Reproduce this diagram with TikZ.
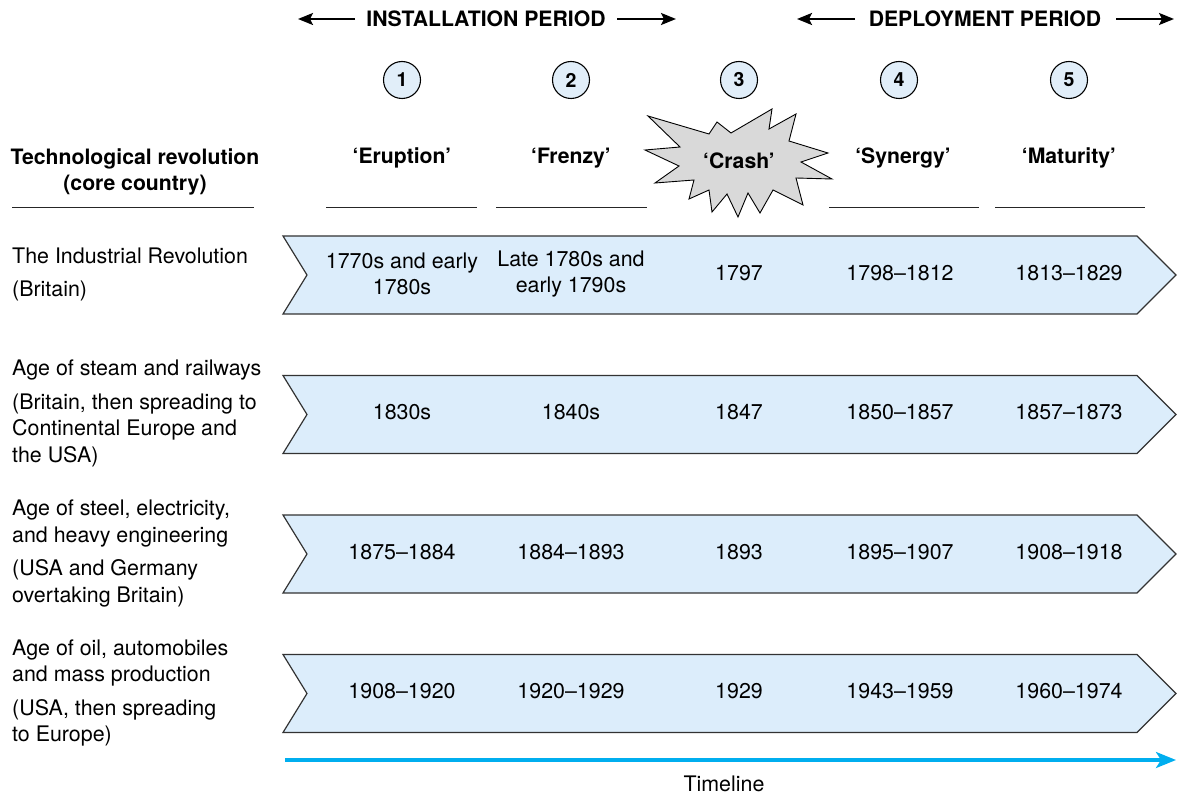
\documentclass[tikz,border=0pt]{standalone}
\usepackage{fontspec}
\setmainfont{TeX Gyre Heros}
\usetikzlibrary{arrows.meta}

\definecolor{chevfill}{HTML}{DCEDFB}
\definecolor{chevline}{HTML}{333333}
\definecolor{badgefill}{HTML}{E1EEF9}
\definecolor{crashfill}{HTML}{D9D9D9}
\definecolor{timecyan}{HTML}{00AEEF}

% one chevron band; #1 = top edge, band is 78 high
\newcommand\drawchevron[1]{%
  \filldraw[chev] (283,#1) -- (1137,#1) -- (1176,#1+39) -- (1137,#1+78)
    -- (283,#1+78) -- (307,#1+39) -- cycle;}

\begin{document}
\begin{tikzpicture}[x=1pt,y=-1pt,
  body/.style={font=\fontsize{21.4}{26.5}\selectfont, inner sep=0pt, text=black},
  bodyb/.style={font=\bfseries\fontsize{21.2}{26.5}\selectfont, inner sep=0pt, text=black},
  datecell/.style={body, align=center},
  revtext/.style={body, align=left, anchor=west},
  phase/.style={bodyb},
  badge/.style={circle, draw=black, line width=1.1pt, fill=badgefill,
    minimum size=37pt, inner sep=0pt, font=\bfseries\fontsize{19.5}{21}\selectfont},
  rule/.style={draw=black!85, line width=1pt},
  chev/.style={fill=chevfill, draw=chevline, line width=1.2pt, line join=miter},
  spanarrow/.style={draw=black, line width=2.3pt,
    arrows={-Stealth[length=15pt,width=12pt,inset=3pt]}},
  timeline/.style={draw=timecyan, line width=3.2pt,
    arrows={-Stealth[length=20pt,width=16pt,inset=5pt]}},
]
\useasboundingbox (0,0) rectangle (1178,794);

% ---- period headings with outward arrows
\node[bodyb] (inst) at (486,19) {INSTALLATION PERIOD};
\node[bodyb] (depl) at (985,19) {DEPLOYMENT PERIOD};
\coordinate (instL) at (298,19);
\coordinate (instR) at (676,19);
\coordinate (deplL) at (797,19);
\coordinate (deplR) at (1174,19);
\coordinate (instLs) at (355,19);
\coordinate (instRs) at (617,19);
\coordinate (deplLs) at (855,19);
\coordinate (deplRs) at (1116,19);
\draw[spanarrow] (instLs) -- (instL);
\draw[spanarrow] (instRs) -- (instR);
\draw[spanarrow] (deplLs) -- (deplL);
\draw[spanarrow] (deplRs) -- (deplR);

% ---- phase numbers
\node[badge] (n1) at (402,80) {1};
\node[badge] (n2) at (571,80) {2};
\node[badge] (n3) at (739,80) {3};
\node[badge] (n4) at (899,80) {4};
\node[badge] (n5) at (1069,80) {5};

% ---- crash burst
\filldraw[fill=crashfill, draw=black, line width=0.9pt, line join=miter]
  (648,116) -- (709,134) -- (717,122) -- (731,133) -- (772,109) -- (769,129)
  -- (796,114) -- (789,141) -- (828,153) -- (801,162) -- (832,179) -- (796,178)
  -- (803,205) -- (773,190) -- (760,213) -- (748,193) -- (738,217) -- (727,194)
  -- (712,212) -- (709,190) -- (689,199) -- (694,180) -- (655,183) -- (679,166)
  -- (645,150) -- (680,147) -- cycle;

% ---- column headings
\node[bodyb, align=center] (hdr) at (135,172) {Technological revolution\\(core country)};
\node[phase] (p1) at (402,158) {‘Eruption’};
\node[phase] (p2) at (571,158) {‘Frenzy’};
\node[phase] (p3) at (739,161) {‘Crash’};
\node[phase] (p4) at (903,158) {‘Synergy’};
\node[phase] (p5) at (1069,158) {‘Maturity’};

\draw[rule] (12,208) -- (254,208);
\draw[rule] (326,208) -- (477,208);
\draw[rule] (496,208) -- (647,208);
\draw[rule] (829,208) -- (979,208);
\draw[rule] (995,208) -- (1145,208);

% ---- chevron bands
\drawchevron{236}
\drawchevron{375.5}
\drawchevron{515}
\drawchevron{654.5}

% ---- revolutions (left column)
\node[revtext] (r1) at (12,274.5) {The Industrial Revolution\\[7pt](Britain)};
\node[revtext] (r2) at (12,413.5) {Age of steam and railways\\[7pt](Britain, then spreading to\\Continental Europe and\\the USA)};
\node[revtext] (r3) at (12,553.5) {Age of steel, electricity,\\and heavy engineering\\[7pt](USA and Germany\\overtaking Britain)};
\node[revtext] (r4) at (12,693) {Age of oil, automobiles\\and mass production\\[7pt](USA, then spreading\\to Europe)};

% ---- dates
\node[datecell] (d11) at (402,274) {1770s and early\\1780s};
\node[datecell] (d12) at (571,274) {Late 1780s and\\early 1790s};
\node[datecell] (d13) at (739,273) {1797};
\node[datecell] (d14) at (900,273) {1798–1812};
\node[datecell] (d15) at (1069,273) {1813–1829};

\node[datecell] (d21) at (402,412.5) {1830s};
\node[datecell] (d22) at (571,412.5) {1840s};
\node[datecell] (d23) at (739,412.5) {1847};
\node[datecell] (d24) at (900,412.5) {1850–1857};
\node[datecell] (d25) at (1069,412.5) {1857–1873};

\node[datecell] (d31) at (402,552) {1875–1884};
\node[datecell] (d32) at (571,552) {1884–1893};
\node[datecell] (d33) at (739,552) {1893};
\node[datecell] (d34) at (900,552) {1895–1907};
\node[datecell] (d35) at (1069,552) {1908–1918};

\node[datecell] (d41) at (402,691.5) {1908–1920};
\node[datecell] (d42) at (571,691.5) {1920–1929};
\node[datecell] (d43) at (739,691.5) {1929};
\node[datecell] (d44) at (900,691.5) {1943–1959};
\node[datecell] (d45) at (1069,691.5) {1960–1974};

% ---- timeline
\coordinate (t0) at (285,760);
\coordinate (t1) at (1176,760);
\draw[timeline] (t0) -- (t1);
\node[body] (tl) at (724,784) {Timeline};
\end{tikzpicture}
\end{document}
